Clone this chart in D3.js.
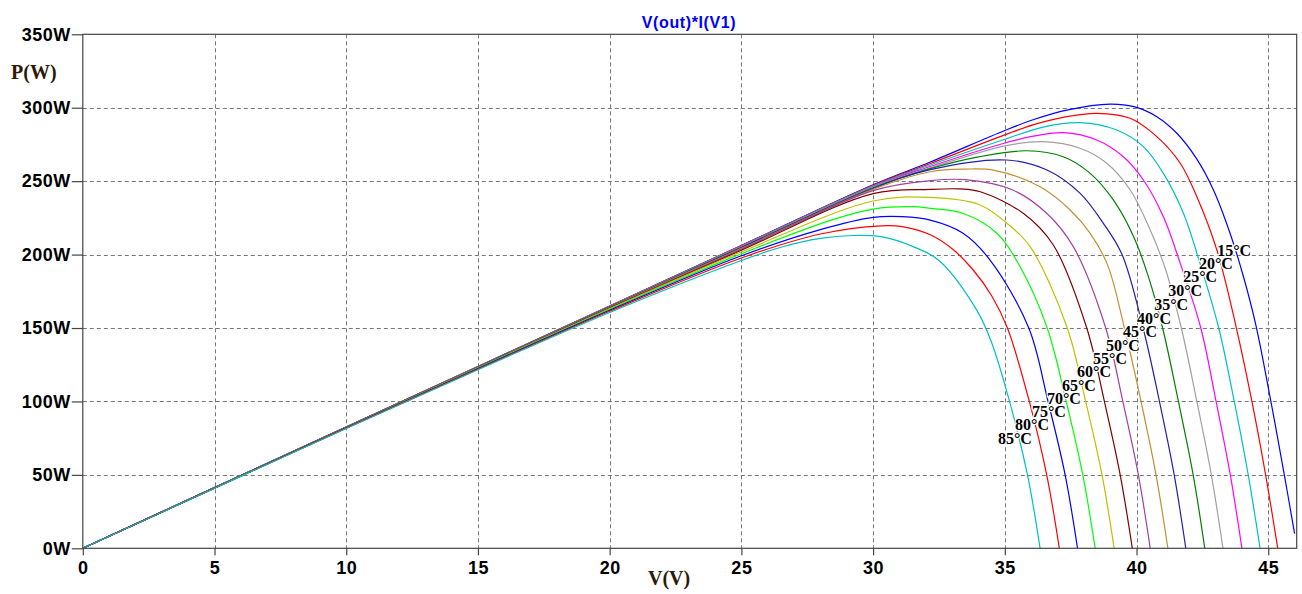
<!DOCTYPE html>
<html lang="en">
<head>
  <meta charset="utf-8">
  <title>V(out)*I(V1)</title>
  <script src="https://d3js.org/d3.v7.min.js"></script>
  <style>
    body { margin: 0; background: #fff; }
    .tick-label { font-family: "Liberation Sans", Arial, sans-serif; font-weight: bold; font-size: 18px; fill: #000; }
    .axis-title { font-family: "Liberation Serif", "Times New Roman", serif; font-weight: bold; font-size: 20px; fill: #2a1a08; }
    .temp-label { font-family: "Liberation Serif", "Times New Roman", serif; font-weight: bold; font-size: 16px; fill: #000;
      stroke: #fff; stroke-width: 2.5px; paint-order: stroke; stroke-linejoin: round; }
    .grid line { stroke: #777; stroke-dasharray: 4,3; stroke-width: 1; }
  </style>
</head>
<body>
<script>
// temperatures of the sweep and their trace colours
var temps = [15, 20, 25, 30, 35, 40, 45, 50, 55, 60, 65, 70, 75, 80, 85];
var traceColors = ["#0000ff", "#ff0000", "#00c0c0", "#ff00ff", "#a0a0a0", "#008000", "#2020b0",
                   "#c09030", "#a040a0", "#800000", "#c0c000", "#00ff00", "#0000ff", "#ff0000", "#00c0c0"];

// [V, P], one list per temperature
var c15 = [[0,0],[5,41.3],[10,82.6],[15,123.8],[20,165.0],[25,206.2],[30,247.5],[32.17,263],[35,284.5],[36.1,292],[37.35,298.4],[39.0,302.5],[39.9,300.7],[40.77,293.9],[41.53,282.6],[42.29,265],[42.92,244],[43.55,214.5],[44.06,184.9],[44.53,152],[45.1,100],[45.61,50],[46.0,10]];
var c20 = [[0,0],[5,41.3],[10,82.6],[15,123.7],[20,164.9],[25,206.1],[30,247.2],[32.17,262],[35,281.5],[36.1,288.5],[37.3,293.8],[38.5,296.2],[39.76,292.8],[40.77,280.3],[41.66,262.2],[42.29,239.4],[43.05,203.1],[43.79,150],[44.38,100],[44.9,50],[45.36,0]];
var c25 = [[0,0],[5,41.3],[10,82.6],[15,123.7],[20,164.8],[25,205.9],[30,246.8],[32.17,261],[35,278.5],[36.5,287],[37.86,289.8],[39.25,284.8],[40.26,273.5],[41.02,255.3],[41.78,228.1],[42.41,194],[43.12,150],[43.71,100],[44.24,50],[44.69,0]];
var c30 = [[0,0],[5,41.3],[10,82.6],[15,123.6],[20,164.7],[25,205.6],[30,246.4],[32.17,260],[35,276],[36.2,281],[37.22,283],[38.49,278],[39.5,266.6],[40.26,250.8],[41.02,225.8],[41.66,194],[42.44,150],[43.02,100],[43.56,50],[44.0,0]];
var c35 = [[0,0],[5,41.3],[10,82.5],[15,123.6],[20,164.6],[25,205.3],[30,246.0],[32.17,259],[35,274],[36.46,276.9],[37.86,272.4],[38.87,262.2],[39.76,244],[40.52,216.7],[41.1,190],[41.7,150],[42.29,100],[42.84,50],[43.28,0]];
var c40 = [[0,0],[5,41.3],[10,82.5],[15,123.5],[20,164.5],[25,205.0],[30,245.5],[32.17,258.5],[34,266.5],[35.84,270.7],[37.22,266.6],[38.24,255.3],[39.12,237.2],[39.89,212.2],[40.45,185],[40.99,150],[41.59,100],[42.15,50],[42.59,0]];
var c45 = [[0,0],[5,41.3],[10,82.4],[15,123.4],[20,164.3],[25,204.6],[30,245.0],[32.17,257.8],[35.07,264.4],[36.6,257.6],[37.86,241.7],[38.74,221.3],[39.45,200],[40.25,150],[40.87,100],[41.43,50],[41.87,0]];
var c50 = [[0,0],[5,41.2],[10,82.4],[15,123.3],[20,164.1],[25,204.2],[30,244.4],[32.17,256.4],[33.5,258.2],[34.6,257.4],[36.34,246.2],[37.48,230.4],[38.24,214.5],[38.9,193],[39.54,150],[40.17,100],[40.74,50],[41.19,0]];
var c55 = [[0,0],[5,41.2],[10,82.3],[15,123.2],[20,163.9],[25,203.7],[30,243.6],[32.17,250.3],[33.5,251],[35.3,244],[36.6,228],[37.6,205.4],[38.83,150],[39.48,100],[40.07,50],[40.52,0]];
var c60 = [[0,0],[5,41.2],[10,82.3],[15,123.1],[20,163.6],[25,203.0],[30,241.5],[32.17,244.4],[33.3,244.7],[34.07,242.8],[35.7,228.1],[36.84,206.5],[38.11,150],[38.78,100],[39.38,50],[39.84,0]];
var c65 = [[0,0],[5,41.2],[10,82.2],[15,122.9],[20,163.2],[25,201.9],[30,236.5],[32.16,238.9],[34.06,233.8],[35.08,221.3],[35.96,205.4],[37.37,150],[38.07,100],[38.69,50],[39.15,0]];
var c70 = [[0,0],[5,41.1],[10,82.1],[15,122.7],[20,162.7],[25,200.6],[28.5,224],[30,231],[31.5,232.6],[32.17,231.5],[33.43,228],[34.7,214.5],[35.58,191.7],[36.61,150],[37.33,100],[37.96,50],[38.43,0]];
var c75 = [[0,0],[5,41.0],[10,82.0],[15,122.4],[20,162.1],[25,199.2],[28,217],[30,225.3],[31.1,225.8],[32.17,223.5],[33.4,214.7],[34.44,196.3],[35.91,150],[36.64,100],[37.29,50],[37.76,0]];
var c80 = [[0,0],[5,41.0],[10,81.8],[15,122.0],[20,161.4],[25,197.7],[28,214],[30.3,219.6],[31.1,219.1],[32.17,213.5],[33.0,204],[33.8,189.5],[34.5,172],[35.1,150],[35.93,100],[36.59,50],[37.07,0]];
var c85 = [[0,0],[5,40.9],[10,81.6],[15,121.6],[20,160.6],[25,196.0],[26.5,205],[28,211],[29.2,213],[30.3,212.2],[31.5,205.6],[32.5,196],[33.94,162],[34.5,140],[35.18,100],[35.86,50],[36.34,0]];
var curves = [c15, c20, c25, c30, c35, c40, c45, c50, c55, c60, c65, c70, c75, c80, c85];

// where LTspice put the step labels (data coordinates)
var labelV = [43.06, 42.37, 41.77, 41.2, 40.67, 40.02, 39.49, 38.84, 38.35, 37.74, 37.17, 36.6, 36.03, 35.39, 34.74];
var labelP = [199.0, 190.2, 181.0, 171.8, 162.6, 152.7, 143.8, 134.3, 125.4, 116.6, 107.1, 98.2, 89.4, 80.5, 71.0];

var xTicks = [0, 5, 10, 15, 20, 25, 30, 35, 40, 45];
var yTicks = [0, 50, 100, 150, 200, 250, 300, 350];

var width = 1302, height = 594;
var plotL = 82.8, plotR = 1296.7, plotT = 34.3, plotB = 548.3;

var svg = d3.select("body").append("svg")
  .attr("width", width)
  .attr("height", height);

var x = d3.scaleLinear().domain([0, 46.08]).range([plotL, plotR]);
var y = d3.scaleLinear().domain([0, 350]).range([plotB, plotT]);

// dashed grid
var grid = svg.append("g").attr("class", "grid");
grid.selectAll("line.v")
  .data(xTicks.filter(function(d) { return d > 0; }))
  .enter().append("line")
  .attr("x1", function(d) { return Math.round(x(d)) + 0.5; })
  .attr("x2", function(d) { return Math.round(x(d)) + 0.5; })
  .attr("y1", plotT).attr("y2", plotB);
grid.selectAll("line.h")
  .data(yTicks.filter(function(d) { return d > 0 && d < 350; }))
  .enter().append("line")
  .attr("y1", function(d) { return Math.round(y(d)) + 0.5; })
  .attr("y2", function(d) { return Math.round(y(d)) + 0.5; })
  .attr("x1", plotL).attr("x2", plotR);

// traces
svg.append("clipPath").attr("id", "plot")
  .append("rect").attr("x", plotL).attr("y", plotT)
  .attr("width", plotR - plotL).attr("height", plotB - plotT);

var line = d3.line()
  .x(function(d) { return x(d[0]); })
  .y(function(d) { return y(d[1]); })
  .curve(d3.curveCatmullRom.alpha(0.5));

svg.append("g").attr("clip-path", "url(#plot)")
  .selectAll("path")
  .data(curves)
  .enter().append("path")
  .attr("fill", "none")
  .attr("stroke", function(d, i) { return traceColors[i]; })
  .attr("stroke-width", 1.2)
  .attr("d", line);

// frame
svg.append("rect")
  .attr("x", plotL).attr("y", plotT)
  .attr("width", plotR - plotL).attr("height", plotB - plotT)
  .attr("fill", "none").attr("stroke", "#444").attr("stroke-width", 1.2);

// axes
var xAxis = svg.append("g")
  .attr("transform", "translate(0," + plotB + ")")
  .call(d3.axisBottom(x).tickValues(xTicks).tickSize(7).tickPadding(6).tickFormat(d3.format("d")));
var yAxis = svg.append("g")
  .attr("transform", "translate(" + plotL + ",0)")
  .call(d3.axisLeft(y).tickValues(yTicks).tickSize(11).tickPadding(1).tickFormat(function(d) { return d + "W"; }));

[xAxis, yAxis].forEach(function(a) {
  a.select(".domain").remove();
  a.selectAll(".tick line").attr("stroke", "#444").attr("stroke-width", 1.2);
  a.selectAll(".tick text").attr("class", "tick-label").attr("fill", null).style("letter-spacing", "0.5px");
});

// titles
svg.append("text")
  .attr("x", 689).attr("y", 28)
  .attr("text-anchor", "middle")
  .style("font-family", "'Liberation Sans', Arial, sans-serif")
  .style("font-weight", "bold").style("font-size", "16px")
  .style("letter-spacing", "0.6px")
  .attr("fill", "#0000ff")
  .text("V(out)*I(V1)");

svg.append("text").attr("class", "axis-title")
  .attr("x", 11).attr("y", 79).text("P(W)");
svg.append("text").attr("class", "axis-title")
  .attr("x", 648).attr("y", 585).text("V(V)");

// step labels
svg.append("g").selectAll("text")
  .data(temps)
  .enter().append("text")
  .attr("class", "temp-label")
  .attr("x", function(d, i) { return x(labelV[i]); })
  .attr("y", function(d, i) { return y(labelP[i]); })
  .text(function(d) { return d + "°C"; });
</script>
</body>
</html>
